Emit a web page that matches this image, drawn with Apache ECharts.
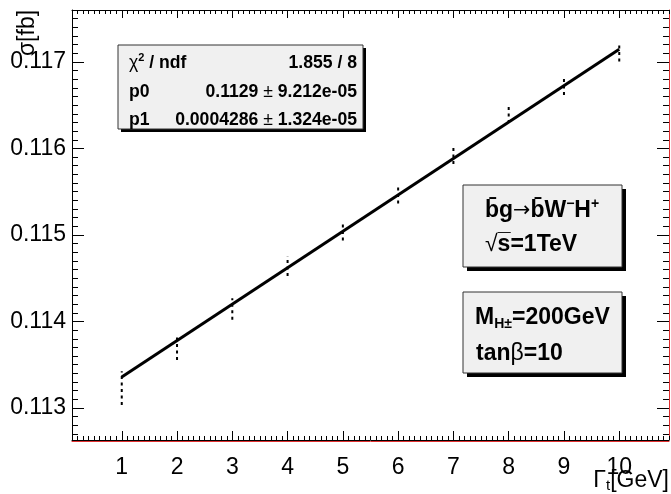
<!DOCTYPE html>
<html>
<head>
<meta charset="utf-8">
<script src="https://cdn.jsdelivr.net/npm/echarts@6/dist/echarts.min.js"></script>
<style>
	html, body { margin: 0; padding: 0; background: #fff; }
	#chart1 { width: 671px; height: 494px; }
</style>
</head>
<body>
<div id="chart1"></div>
<script>
// measured points: Gamma_t [GeV] vs sigma [fb]
const X_POINTS = [1, 2, 3, 4, 5, 6, 7, 8, 9, 10];
const SIGMA = [0.11323, 0.11370, 0.114144, 0.11464, 0.115048, 0.115469, 0.115919, 0.116389, 0.116715, 0.11710];
const SIGMA_ERR = [0.000196, 0.000144, 0.000125, 0.000115, 0.000111, 0.000106, 0.000098, 0.000096, 0.000096, 0.000096];

// straight-line fit, end points as drawn
const FIT_X = [1, 10];
const FIT_Y = [0.113357, 0.117146];

// axes
const X_RANGE = [0.1, 10.9];
const Y_RANGE = [0.11263, 0.1176];
const X_MAJOR = [1, 2, 3, 4, 5, 6, 7, 8, 9, 10];
const Y_MAJOR = [0.113, 0.114, 0.115, 0.116, 0.117];

// fit statistics box
const STAT_NAMES = ['{r|χ}{sup|2}{b| / ndf}', '{b|p0}', '{b|p1}'];
const STAT_VALUES = ['{b|1.855 / 8}', '{b|0.1129 }{r|±}{b| 9.212e-05}', '{b|0.0004286 }{r|±}{b| 1.324e-05}'];

// info boxes
const PROCESS_LINES = ['{b|b\u0304g}{arr|→}{b|b\u0304W}{sup|−}{b|H}{sup|+}', '{r|√}{b|s\u0305=1TeV}'];
const PARAM_LINES = ['{b|M}{sub|H±}{b|=200GeV}', '{b|tan}{r|β}{b|=10}'];

const FONT = "'Liberation Sans', Arial, sans-serif";

const xMinor = [];
for (let i = 1; i <= 109; i++) { if (i % 10) xMinor.push(i / 10); }
const yMinor = [];
for (let i = 1127; i <= 1175; i++) { if (i % 10) yMinor.push(i / 10000); }

const baseAxis = (range, extra) => Object.assign({
	type: 'value',
	min: range[0],
	max: range[1],
	splitLine: { show: false },
	axisLine: { show: false },
	axisLabel: { show: false },
	axisTick: { show: false }
}, extra);

const ticks = (values, len) => ({
	show: true, inside: true, length: len, customValues: values,
	lineStyle: { color: '#000', width: 1 }
});

const richStyles = (size) => ({
	b: { fontFamily: FONT, fontWeight: 'bold', fontSize: size, lineHeight: size + 4, color: '#000' },
	r: { fontFamily: FONT, fontSize: size, lineHeight: size + 4, color: '#000' },
	arr: { fontFamily: "'DejaVu Sans', sans-serif", fontSize: size * 0.9, lineHeight: size + 4, color: '#000' },
	sup: { fontFamily: FONT, fontWeight: 'bold', fontSize: Math.round(size * 0.62), lineHeight: 8, verticalAlign: 'top', color: '#000' },
	sub: { fontFamily: FONT, fontWeight: 'bold', fontSize: Math.round(size * 0.6), lineHeight: 4, verticalAlign: 'bottom', color: '#000' }
});

const boxWithShadow = (x, y, w, h, off) => [
	{ type: 'rect', shape: { x: x + off, y: y + off, width: w, height: h }, style: { fill: '#000' }, z: 10 },
	{ type: 'rect', shape: { x: x, y: y, width: w, height: h }, style: { fill: '#f0f0f0', stroke: '#333', lineWidth: 1 }, z: 11 }
];

const label = (text, x, y, size, align) => ({
	type: 'text', z: 12,
	style: { text: text, x: x, y: y, align: align || 'left', verticalAlign: 'middle', rich: richStyles(size) }
});

const getOptionChart1 = () => {
	const graphic = [];
	graphic.push(...boxWithShadow(118, 45, 245, 84, 3));
	const rowY = [63, 92, 120];
	STAT_NAMES.forEach((t, i) => graphic.push(label(t, 129, rowY[i], 17.6, 'left')));
	STAT_VALUES.forEach((t, i) => graphic.push(label(t, 357, rowY[i], 17.6, 'right')));

	graphic.push(...boxWithShadow(463, 185, 159, 82, 4));
	graphic.push(label(PROCESS_LINES[0], 485, 211, 23));
	graphic.push(label(PROCESS_LINES[1], 485, 245, 23));

	graphic.push(...boxWithShadow(463, 292, 159, 81, 4));
	graphic.push(label(PARAM_LINES[0], 475, 318, 23));
	graphic.push(label(PARAM_LINES[1], 476, 354, 23));

	// axis titles
	graphic.push({
		type: 'text', x: 28, y: 33, rotation: Math.PI / 2,
		style: { text: 'σ[fb]', align: 'center', verticalAlign: 'middle', fontFamily: FONT, fontSize: 23, fill: '#000' }
	});
	graphic.push({
		type: 'text',
		style: {
			text: '{r|Γ}{sub|t}{r|[GeV]}', x: 669, y: 481, align: 'right', verticalAlign: 'middle',
			rich: {
				r: { fontFamily: FONT, fontSize: 23, lineHeight: 25, color: '#000' },
				sub: { fontFamily: FONT, fontSize: 15, lineHeight: 6, verticalAlign: 'bottom', color: '#000' }
			}
		}
	});

	return {
		animation: false,
		backgroundColor: '#fff',
		grid: { left: 72, right: 2, top: 10, bottom: 54 },
		xAxis: [
			baseAxis(X_RANGE, {
				position: 'bottom',
				axisLine: { show: true, lineStyle: { color: '#000', width: 1 } },
				axisTick: ticks(X_MAJOR, 9),
				axisLabel: { show: true, customValues: X_MAJOR, fontFamily: FONT, fontSize: 23, color: '#000', margin: 16 }
			}),
			baseAxis(X_RANGE, { position: 'bottom', axisTick: ticks(xMinor, 4) }),
			baseAxis(X_RANGE, {
				position: 'top',
				axisLine: { show: true, lineStyle: { color: '#000', width: 1 } },
				axisTick: ticks(X_MAJOR, 8)
			}),
			baseAxis(X_RANGE, { position: 'top', axisTick: ticks(xMinor, 4) }),
			baseAxis(X_RANGE, { position: 'bottom', offset: 1, axisLine: { show: true, lineStyle: { color: '#e03030', width: 1 } } })
		],
		yAxis: [
			baseAxis(Y_RANGE, {
				position: 'left',
				axisLine: { show: true, lineStyle: { color: '#000', width: 1 } },
				axisTick: ticks(Y_MAJOR, 12),
				axisLabel: {
					show: true, customValues: Y_MAJOR, fontFamily: FONT, fontSize: 23, color: '#000', margin: 6,
					formatter: (v) => v.toFixed(3)
				}
			}),
			baseAxis(Y_RANGE, { position: 'left', axisTick: ticks(yMinor, 6) }),
			baseAxis(Y_RANGE, {
				position: 'right',
				axisLine: { show: true, lineStyle: { color: '#e03030', width: 1 } },
				axisTick: ticks(Y_MAJOR, 12)
			}),
			baseAxis(Y_RANGE, { position: 'right', axisTick: ticks(yMinor, 6) })
		],
		series: [
			{
				name: 'errors',
				type: 'custom',
				xAxisIndex: 0,
				yAxisIndex: 0,
				encode: { x: 0, y: [1, 2] },
				data: X_POINTS.map((x, i) => [x, SIGMA[i] - SIGMA_ERR[i], SIGMA[i] + SIGMA_ERR[i]]),
				renderItem: (params, api) => {
					const lo = api.coord([api.value(0), api.value(1)]);
					const hi = api.coord([api.value(0), api.value(2)]);
					return {
						type: 'line',
						shape: { x1: lo[0], y1: lo[1], x2: hi[0], y2: hi[1] },
						style: { stroke: '#000', lineWidth: 2, lineDash: [3, 3.5] }
					};
				}
			},
			{
				name: 'fit',
				type: 'line',
				xAxisIndex: 0,
				yAxisIndex: 0,
				symbol: 'none',
				data: FIT_X.map((x, i) => [x, FIT_Y[i]]),
				lineStyle: { color: '#000', width: 3 }
			}
		],
		graphic: graphic
	};
};

const initCharts = () => {
	const chart1 = echarts.init(document.getElementById('chart1'));
	chart1.setOption(getOptionChart1());
};

initCharts();
</script>
</body>
</html>
